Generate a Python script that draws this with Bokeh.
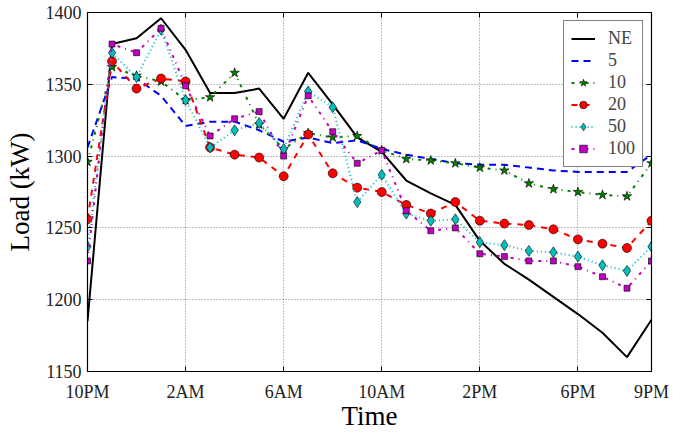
from bokeh.plotting import figure
from bokeh.models import FixedTicker, LinearAxis, Range1d
from bokeh.embed import file_html
from bokeh.resources import INLINE

hours = ["10PM", "11PM", "12AM", "1AM", "2AM", "3AM", "4AM", "5AM", "6AM", "7AM", "8AM", "9AM",
         "10AM", "11AM", "12PM", "1PM", "2PM", "3PM", "4PM", "5PM", "6PM", "7PM", "8PM", "9PM"]
tick_labels = ["10PM", "2AM", "6AM", "10AM", "2PM", "6PM", "9PM"]
y_ticks = [1150, 1200, 1250, 1300, 1350, 1400]

ne = [1185, 1378, 1382, 1396, 1374, 1344, 1344, 1347, 1326, 1358, 1336, 1313,
      1303, 1283, 1274, 1266, 1241, 1225, 1214, 1202, 1190, 1177, 1160, 1186]
s5 = [1306, 1355, 1354, 1342, 1321, 1324, 1324, 1318, 1310, 1313, 1309, 1311,
      1305, 1301, 1298, 1295, 1294, 1294, 1292, 1290, 1289, 1289, 1289, 1301]
s10 = [1296, 1362, 1356, 1352, 1339, 1341, 1358, 1322, 1305, 1316, 1313, 1314,
       1304, 1298, 1297, 1295, 1292, 1290, 1281, 1277, 1275, 1273, 1272, 1295]
s20 = [1256, 1366, 1347, 1354, 1352, 1306, 1301, 1299, 1286, 1315, 1288, 1278,
       1275, 1266, 1260, 1268, 1255, 1253, 1252, 1249, 1242, 1239, 1236, 1255]
s50 = [1237, 1372, 1355, 1388, 1339, 1306, 1318, 1323, 1305, 1345, 1334, 1268,
       1287, 1260, 1255, 1256, 1240, 1238, 1234, 1233, 1230, 1224, 1220, 1237]
s100 = [1227, 1378, 1372, 1389, 1349, 1314, 1326, 1331, 1300, 1342, 1317, 1295,
        1304, 1262, 1248, 1250, 1232, 1230, 1227, 1227, 1223, 1216, 1208, 1227]

x = list(range(len(hours)))
tick_pos = [hours.index(t) for t in tick_labels]

FONT = "Liberation Serif"

p = figure(width=690, height=433, output_backend="svg", toolbar_location=None,
           x_range=Range1d(0, len(hours) - 1), y_range=Range1d(y_ticks[0], y_ticks[-1]),
           min_border_left=87, min_border_right=39, min_border_top=12, min_border_bottom=60)
p.background_fill_color = "white"
p.border_fill_color = "white"
p.outline_line_color = "black"
p.outline_line_width = 1.2

p.line(x, ne, line_color="black", line_width=2, legend_label="NE")
p.line(x, s5, line_color="#0000ff", line_width=2, line_dash="7 5", legend_label="5")
p.line(x, s10, line_color="#007f00", line_width=2, line_dash="3 5 1 5", legend_label="10")
p.scatter(x, s10, marker="star", size=10, fill_color="#007f00", line_color="black", line_width=0.6, legend_label="10")
p.line(x, s20, line_color="#ff0000", line_width=2, line_dash="6 6", legend_label="20")
p.scatter(x, s20, marker="circle", size=9, fill_color="#ff0000", line_color="black", line_width=0.6, legend_label="20")
p.line(x, s50, line_color="#00bfbf", line_width=2, line_dash="1 3", legend_label="50")
p.scatter(x, s50, marker="diamond", size=11, fill_color="#00bfbf", line_color="black", line_width=0.6, legend_label="50")
p.line(x, s100, line_color="#bf00bf", line_width=2, line_dash="3 5 1 5", legend_label="100")
p.scatter(x, s100, marker="square", size=6, fill_color="#bf00bf", line_color="black", line_width=0.6, legend_label="100")

# axes
p.xaxis.ticker = FixedTicker(ticks=tick_pos)
p.xaxis.major_label_overrides = {i: hours[i] for i in tick_pos}
p.yaxis.ticker = FixedTicker(ticks=y_ticks)
for ax in (p.xaxis[0], p.yaxis[0]):
    ax.major_tick_in = 5
    ax.major_tick_out = 0
    ax.minor_tick_line_color = None
    ax.axis_line_color = "black"
    ax.major_tick_line_color = "black"
    ax.major_label_text_font = FONT
    ax.major_label_text_font_size = "18px"
    ax.major_label_text_color = "#222222"
    ax.major_label_text_line_height = 1.0
    ax.axis_label_text_font = FONT
    ax.axis_label_text_font_size = "27px"
    ax.axis_label_text_font_style = "normal"
    ax.axis_label_text_color = "black"
    ax.axis_label_text_line_height = 1.0
p.xaxis.major_label_standoff = 10
p.yaxis.major_label_standoff = 6
p.xaxis.axis_label = "Time"
p.yaxis.axis_label = "Load (kW)"
p.xaxis.axis_label_standoff = -4
p.yaxis.axis_label_standoff = 8

top = LinearAxis(ticker=FixedTicker(ticks=tick_pos), major_label_text_font_size="1px",
                 major_label_overrides={t: "" for t in tick_pos},
                 major_tick_in=5, major_tick_out=0, minor_tick_line_color=None,
                 major_label_standoff=0, axis_line_color="black")
right = LinearAxis(ticker=FixedTicker(ticks=y_ticks), major_label_text_font_size="1px",
                   major_label_overrides={t: "" for t in y_ticks},
                   major_tick_in=5, major_tick_out=0, minor_tick_line_color=None,
                   major_label_standoff=0, axis_line_color="black")
p.add_layout(top, "above")
p.add_layout(right, "right")

p.xgrid.ticker = FixedTicker(ticks=tick_pos)
p.ygrid.ticker = FixedTicker(ticks=y_ticks)
for g in (p.xgrid[0], p.ygrid[0]):
    g.grid_line_color = "#808080"
    g.grid_line_dash = "1 2"
    g.grid_line_width = 1

lg = p.legend[0]
lg.location = "top_right"
lg.margin = 8
lg.padding = 7
lg.spacing = 1
lg.glyph_width = 24
lg.glyph_height = 19
lg.label_height = 19
lg.label_standoff = 13
lg.label_text_font = FONT
lg.label_text_font_size = "18px"
lg.border_line_color = "black"
lg.border_line_width = 1.2
lg.background_fill_alpha = 1

open("out.html", "w").write(file_html(p, INLINE))
